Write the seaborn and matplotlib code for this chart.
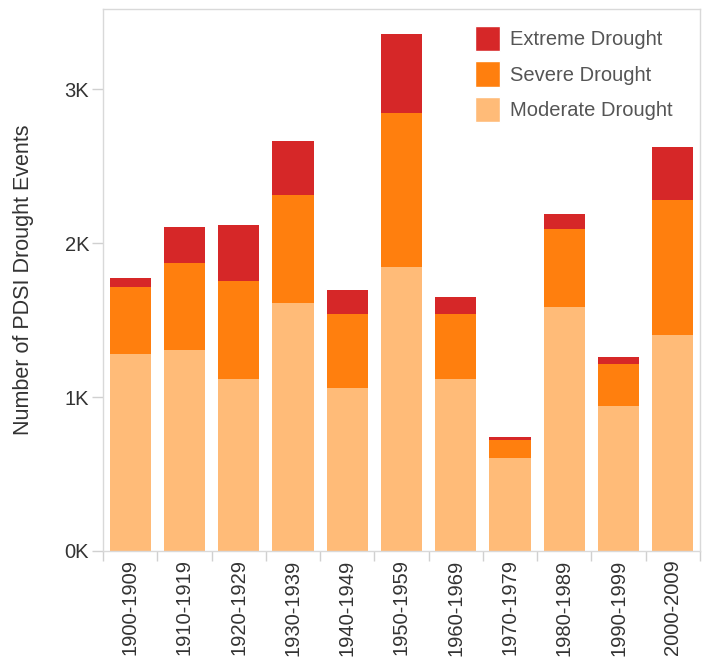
import pandas as pd
import matplotlib
matplotlib.use("Agg")
import matplotlib.pyplot as plt
import seaborn as sns
from matplotlib.patches import Patch
from matplotlib.ticker import FuncFormatter

# ---------- Data ----------
decades = ["1900-1909", "1910-1919", "1920-1929", "1930-1939", "1940-1949",
           "1950-1959", "1960-1969", "1970-1979", "1980-1989", "1990-1999",
           "2000-2009"]
moderate = [1280, 1305, 1117, 1610, 1058, 1846, 1117, 602, 1587, 942, 1401]
severe = [435, 563, 634, 704, 483, 996, 424, 117, 504, 270, 878]
extreme = [60, 234, 364, 350, 152, 517, 106, 23, 95, 46, 342]

colors = {"Extreme Drought": "#d62728",
          "Severe Drought": "#ff7f0e",
          "Moderate Drought": "#ffbb78"}

df = pd.DataFrame({"decade": decades, "moderate": moderate,
                   "severe": severe, "extreme": extreme})
# cumulative heights so the bars can be overlaid as a stack
df["mod_sev"] = df["moderate"] + df["severe"]
df["total"] = df["mod_sev"] + df["extreme"]

# ---------- Setup ----------
sns.set_style("white")
plt.rcParams["font.family"] = ["Liberation Sans", "DejaVu Sans"]

fig, ax = plt.subplots(figsize=(7.05, 6.58), dpi=100)

for col, label in [("total", "Extreme Drought"),
                   ("mod_sev", "Severe Drought"),
                   ("moderate", "Moderate Drought")]:
    sns.barplot(data=df, x="decade", y=col, color=colors[label],
                width=0.76, saturation=1, ax=ax, errorbar=None,
                linewidth=0)

ax.set_xlim(-0.5, len(decades) - 0.5)
ax.set_ylim(0, 3520)
ax.set_yticks([0, 1000, 2000, 3000])
ax.yaxis.set_major_formatter(FuncFormatter(lambda v, p: f"{int(v/1000)}K"))
ax.set_xlabel("")
ax.set_ylabel("Number of PDSI Drought Events", fontsize=15.5, color="#333333",
              labelpad=22)

# boundary ticks between categories on the x axis
ax.set_xticks(list(range(len(decades))))
ax.set_xticklabels(decades, rotation=90, fontsize=14.5, color="#333333")
ax.set_xticks([i - 0.5 for i in range(len(decades) + 1)], minor=True)
ax.tick_params(axis="x", which="major", bottom=False, length=0, pad=6)
ax.tick_params(axis="x", which="minor", bottom=True, length=7,
               color="#d0d0d0", width=1)
ax.tick_params(axis="y", left=True, length=8, color="#d0d0d0", width=1,
               labelsize=14.5, labelcolor="#333333", pad=2)

for s in ax.spines.values():
    s.set_color("#d9d9d9")
    s.set_linewidth(1)

handles = [Patch(facecolor=c, label=l) for l, c in colors.items()]
leg = ax.legend(handles=handles, loc="upper left", frameon=False,
                fontsize=14.5, handlelength=1.25, handleheight=1.56,
                labelspacing=0.5, handletextpad=0.5, borderpad=0,
                borderaxespad=0, bbox_to_anchor=(475 / 705, 1 - 26 / 658),
                bbox_transform=fig.transFigure)
for t in leg.get_texts():
    t.set_color("#555555")

fig.subplots_adjust(left=103 / 705, right=700 / 705, top=1 - 9 / 658,
                    bottom=1 - 551 / 658)
fig.savefig("out.png", dpi=100)
